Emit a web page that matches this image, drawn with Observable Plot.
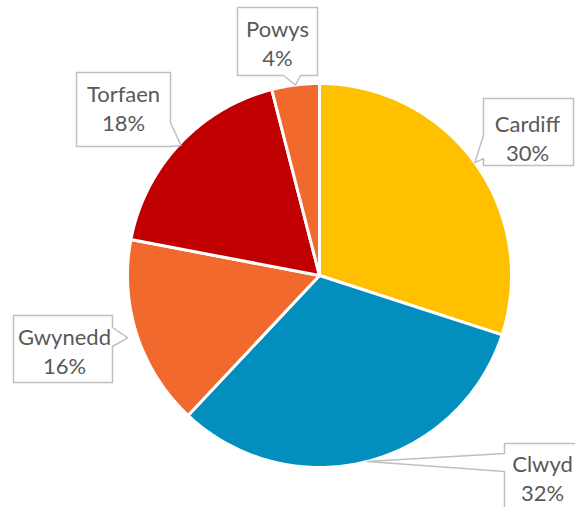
<!DOCTYPE html>
<html><head><meta charset="utf-8">
<script src="https://cdn.jsdelivr.net/npm/d3@7"></script>
<script src="https://cdn.jsdelivr.net/npm/@observablehq/plot@0.6"></script>
<style>body{margin:0;background:#fff}</style>
</head><body><div id="chart"></div>
<script>
// ---- data ----
const regions = ["Cardiff", "Clwyd", "Gwynedd", "Torfaen", "Powys"];
const shares = [30, 32, 16, 18, 4];
const sliceColors = ["#FFC000", "#028FBD", "#F1692D", "#C00000", "#F1692D"];

// ---- layout (pixels) ----
const W = 575, H = 507, CX = 319, CY = 275, R = 192;
const labelLayout = {
  Cardiff: {box: [483, 98, 573, 165], text: [527, 137], side: "left",   base: [135, 158], tipR: 1.0},
  Clwyd:   {box: [504, 443, 600, 525], text: [542, 477], side: "left",   base: [453, 471], tipR: 1.0},
  Gwynedd: {box: [13, 315, 112, 382],  text: [64, 350],  side: "right",  base: [327, 346], tipR: 1.05},
  Torfaen: {box: [76, 72, 170, 146],   text: [123, 107], side: "right",  base: [122, 146], tipR: 0.99},
  Powys:   {box: [237, 7, 317, 75],    text: [277, 42],  side: "bottom", base: [283, 300], tipR: 1.0}
};

const data = regions.map((name, i) => ({name, share: shares[i]}));
const arcs = d3.pie().sort(null).value(d => d.share)(data);

// slice polygons in unit coordinates
const slicePts = [];
arcs.forEach(a => {
  slicePts.push({name: a.data.name, x: 0, y: 0});
  const n = Math.max(2, Math.ceil((a.endAngle - a.startAngle) / (Math.PI / 360)));
  for (let k = 0; k <= n; k++) {
    const t = a.startAngle + (a.endAngle - a.startAngle) * k / n;
    slicePts.push({name: a.data.name, x: Math.sin(t), y: Math.cos(t)});
  }
});

const ux = px => (px - CX) / R;
const uy = py => (CY - py) / R;

const calloutPts = [];
const textPts = [];
arcs.forEach(a => {
  const L = labelLayout[a.data.name];
  const mid = (a.startAngle + a.endAngle) / 2;
  const tip = [CX + R * L.tipR * Math.sin(mid), CY - R * L.tipR * Math.cos(mid)];
  const [l, t, r, b] = L.box;
  let pts;
  if (L.side === "left") pts = [[l, t], [r, t], [r, b], [l, b], [l, L.base[1]], tip, [l, L.base[0]]];
  else if (L.side === "right") pts = [[l, t], [r, t], [r, L.base[0]], tip, [r, L.base[1]], [r, b], [l, b]];
  else pts = [[l, t], [r, t], [r, b], [L.base[1], b], tip, [L.base[0], b], [l, b]];
  pts.forEach(p => calloutPts.push({name: a.data.name, x: ux(p[0]), y: uy(p[1])}));
  textPts.push({name: a.data.name, share: a.data.share, x: ux(L.text[0]), y: uy(L.text[1])});
});

const chart = Plot.plot({
  width: W, height: H,
  margin: 0,
  x: {domain: [-1, 1], range: [CX - R, CX + R], axis: null},
  y: {domain: [-1, 1], range: [CY + R, CY - R], axis: null},
  color: {domain: regions, range: sliceColors},
  marks: [
    Plot.line(slicePts, {x: "x", y: "y", z: "name", fill: "name", stroke: "white", strokeWidth: 3, curve: "linear-closed", strokeLinejoin: "round"}),
    Plot.line(calloutPts, {x: "x", y: "y", z: "name", fill: "white", stroke: "#BFBFBF", strokeWidth: 1.5, curve: "linear-closed"}),
    Plot.text(textPts, {x: "x", y: "y", text: d => `${d.name}\n${d.share}%`, fontSize: 22, lineHeight: 1.28, fill: "#595959", fontFamily: "Lato"})
  ]
});
document.getElementById("chart").appendChild(chart);
</script>
</body></html>
